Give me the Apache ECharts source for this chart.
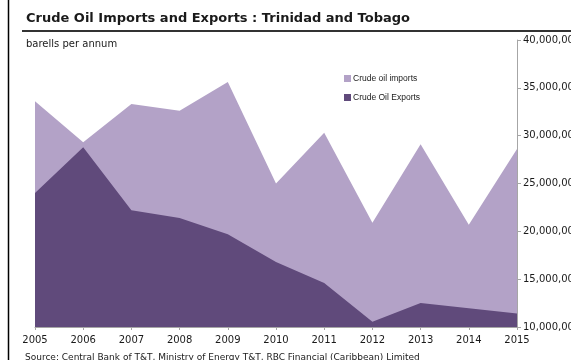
<!DOCTYPE html>
<html>
<head>
<meta charset="utf-8">
<script src="https://cdn.jsdelivr.net/npm/echarts@6/dist/echarts.min.js"></script>
<style>html,body{margin:0;padding:0;background:#fff}#c{width:571px;height:360px}</style>
</head>
<body>
<div id="c"></div>
<script>
var years = ['2005','2006','2007','2008','2009','2010','2011','2012','2013','2014','2015'];
var crudeImports = [33600000, 29300000, 33300000, 32600000, 35600000, 25000000, 30300000, 20900000, 29100000, 20700000, 28600000];
var crudeExports = [24000000, 28800000, 22200000, 21400000, 19700000, 16800000, 14600000, 10550000, 12500000, 11950000, 11400000];
var titleText = 'Crude Oil Imports and Exports : Trinidad and Tobago';
var unitText = 'barells per annum';
var sourceText = 'Source: Central Bank of T&T, Ministry of Energy T&T, RBC Financial (Caribbean) Limited';

var chart = echarts.init(document.getElementById('c'), null, {renderer: 'canvas'});
function fmt(v){ return String(v).replace(/\B(?=(\d{3})+(?!\d))/g, ','); }
chart.setOption({
  animation: false,
  backgroundColor: '#ffffff',
  title: [
    {text: titleText, left: 21, top: 7, textStyle: {fontFamily: 'DejaVu Sans', fontWeight: 'bold', fontSize: 13, color: '#1a1a1a'}},
    {text: unitText, left: 21, top: 34, textStyle: {fontFamily: 'DejaVu Sans', fontWeight: 'normal', fontSize: 10, color: '#1a1a1a'}},
    {text: sourceText, left: 20, top: 348, textStyle: {fontFamily: 'DejaVu Sans', fontWeight: 'normal', fontSize: 9, color: '#1a1a1a'}}
  ],
  graphic: [
    {type: 'line', shape: {x1: 8.5, y1: 0, x2: 8.5, y2: 360}, style: {stroke: '#000', lineWidth: 1.5}},
    {type: 'line', shape: {x1: 22, y1: 31, x2: 571, y2: 31}, style: {stroke: '#333', lineWidth: 2}}
  ],
  legend: {
    orient: 'vertical', left: 344, top: 74, padding: 0, itemWidth: 7, itemHeight: 7, itemGap: 10,
    icon: 'rect',
    textStyle: {fontFamily: 'Liberation Sans', fontSize: 8.5, color: '#1a1a1a', padding: [0,0,0,-3]},
    data: ['Crude oil imports', 'Crude Oil Exports']
  },
  grid: {left: 35, right: 54, top: 40, bottom: 33, containLabel: false, outerBoundsMode: 'none'},
  xAxis: {
    type: 'category', data: years, boundaryGap: false,
    axisLine: {lineStyle: {color: '#a6a6a6', width: 1}},
    axisTick: {show: true, length: 3, lineStyle: {color: '#a6a6a6'}},
    axisLabel: {fontFamily: 'DejaVu Sans', fontSize: 10, color: '#1a1a1a', margin: 8}
  },
  yAxis: {
    type: 'value', position: 'right', min: 10000000, max: 40000000, interval: 5000000,
    axisLine: {show: true, lineStyle: {color: '#a6a6a6', width: 1}},
    axisTick: {show: true, length: 4, lineStyle: {color: '#a6a6a6'}},
    splitLine: {show: false},
    axisLabel: {fontFamily: 'DejaVu Sans', fontSize: 10, color: '#1a1a1a', margin: 6, formatter: fmt}
  },
  series: [
    {name: 'Crude oil imports', type: 'line', data: crudeImports, symbol: 'none', z: 1,
     lineStyle: {width: 0}, itemStyle: {color: '#b3a2c7'}, areaStyle: {color: '#b3a2c7', opacity: 1}},
    {name: 'Crude Oil Exports', type: 'line', data: crudeExports, symbol: 'none', z: 2,
     lineStyle: {width: 0}, itemStyle: {color: '#604a7b'}, areaStyle: {color: '#604a7b', opacity: 1}}
  ]
});
</script>
</body>
</html>
